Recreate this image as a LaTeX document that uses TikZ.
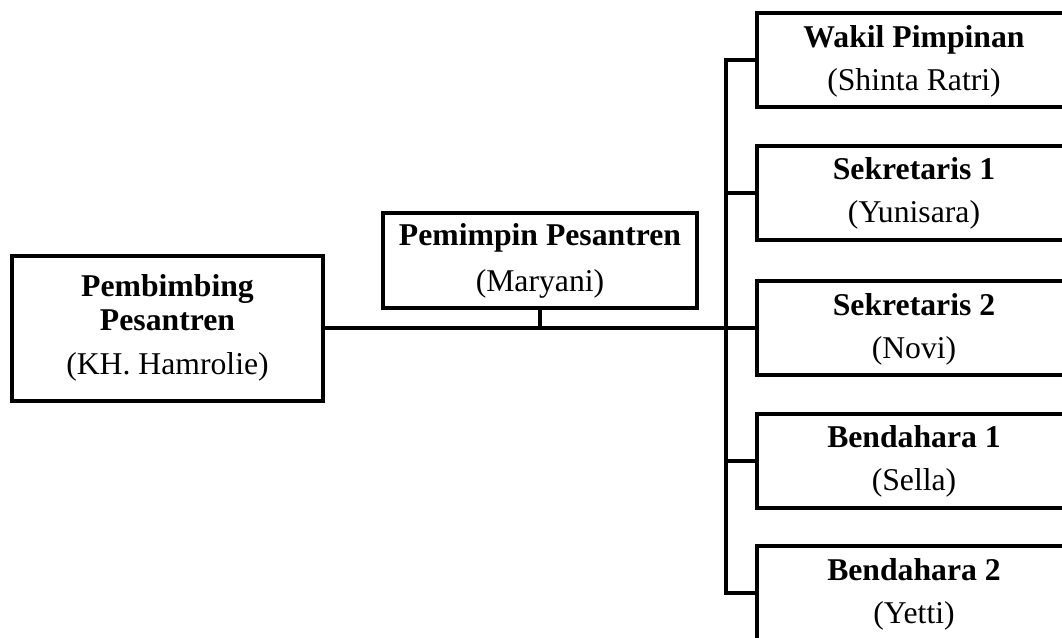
\documentclass[tikz,border=0pt]{standalone}
\usepackage{fontspec}
\setmainfont{Liberation Serif}
\begin{document}
\begin{tikzpicture}[x=1pt,y=-1pt,
  box/.style={draw=black, line width=4pt, rectangle, inner sep=0pt},
  wbox/.style={box, minimum width=314pt, minimum height=94pt},
  ttl/.style={anchor=base, inner sep=0pt, font=\fontsize{31.7}{32}\selectfont\bfseries},
  sub/.style={anchor=base, inner sep=0pt, font=\fontsize{31.7}{32}\selectfont},
  conn/.style={draw=black, line width=4pt, line join=miter}]
\useasboundingbox (0,0) rectangle (1062,637);
\clip (0,0) rectangle (1062,637);
\node[box, minimum width=311pt, minimum height=145pt] (L) at (167.5,328) {};
\node[wbox, minimum height=95pt] (M) at (540,260.5) {};
\node[wbox] (W) at (914,60) {};
\node[wbox] (S1) at (914,192.5) {};
\node[wbox] (S2) at (914,328) {};
\node[wbox] (B1) at (914,460.5) {};
\node[wbox] (B2) at (914,593) {};
% texts
\node[ttl, yshift=-42.5pt] (Lt1) at (L.north) {Pembimbing};
\node[ttl, yshift=-76.5pt] (Lt2) at (L.north) {Pesantren};
\node[sub, yshift=-120.5pt] (Ls) at (L.north) {(KH. Hamrolie)};
\node[ttl, yshift=-34pt] (Mt) at (M.north) {Pemimpin Pesantren};
\node[sub, yshift=-80pt] (Ms) at (M.north) {(Maryani)};
\foreach \n/\t/\s in {W/Wakil Pimpinan/Shinta Ratri, S1/Sekretaris 1/Yunisara,
  S2/Sekretaris 2/Novi, B1/Bendahara 1/Sella, B2/Bendahara 2/Yetti}{
  \node[ttl, yshift=-36pt] (\n t) at (\n.north) {\t};
  \node[sub, yshift=-79pt] (\n s) at (\n.north) {(\s)};
}
\coordinate (J) at (726,328);
\draw[conn] (L.east) -- (J) -- (S2.west);
\draw[conn] (M.south) -- (M.south |- J);
\draw[conn] (W.west) -- (J |- W.west) -- (J |- B2.west) -- (B2.west);
\draw[conn] (J |- S1.west) -- (S1.west);
\draw[conn] (J |- B1.west) -- (B1.west);
\end{tikzpicture}
\end{document}
